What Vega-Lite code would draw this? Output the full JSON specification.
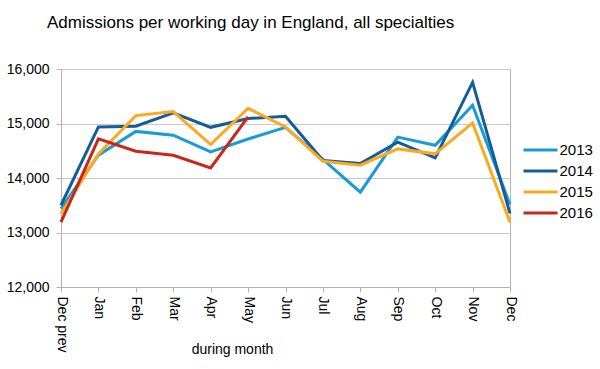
{
  "$schema": "https://vega.github.io/schema/vega-lite/v6.json",
  "width": 449,
  "height": 218,
  "autosize": "none",
  "padding": {"left": 61, "top": 69, "right": 90, "bottom": 82},
  "background": "white",
  "title": {
    "text": "Admissions per working day in England, all specialties",
    "anchor": "start",
    "frame": "group",
    "dx": -14,
    "offset": 17,
    "baseline": "alphabetic",
    "font": "Liberation Sans",
    "fontSize": 17,
    "fontWeight": "normal",
    "color": "#000000"
  },
  "config": {
    "view": {"stroke": "#b3b3b3", "strokeWidth": 1},
    "font": "Liberation Sans"
  },
  "data": {
    "values": [
      {"month": "Dec prev", "year": "2013", "value": 13440},
      {"month": "Jan", "year": "2013", "value": 14420},
      {"month": "Feb", "year": "2013", "value": 14855},
      {"month": "Mar", "year": "2013", "value": 14785},
      {"month": "Apr", "year": "2013", "value": 14480},
      {"month": "May", "year": "2013", "value": 14715},
      {"month": "Jun", "year": "2013", "value": 14930},
      {"month": "Jul", "year": "2013", "value": 14340},
      {"month": "Aug", "year": "2013", "value": 13740},
      {"month": "Sep", "year": "2013", "value": 14750},
      {"month": "Oct", "year": "2013", "value": 14600},
      {"month": "Nov", "year": "2013", "value": 15335},
      {"month": "Dec", "year": "2013", "value": 13515},
      {"month": "Dec prev", "year": "2014", "value": 13500},
      {"month": "Jan", "year": "2014", "value": 14937},
      {"month": "Feb", "year": "2014", "value": 14950},
      {"month": "Mar", "year": "2014", "value": 15195},
      {"month": "Apr", "year": "2014", "value": 14930},
      {"month": "May", "year": "2014", "value": 15090},
      {"month": "Jun", "year": "2014", "value": 15133},
      {"month": "Jul", "year": "2014", "value": 14320},
      {"month": "Aug", "year": "2014", "value": 14265},
      {"month": "Sep", "year": "2014", "value": 14657},
      {"month": "Oct", "year": "2014", "value": 14370},
      {"month": "Nov", "year": "2014", "value": 15756},
      {"month": "Dec", "year": "2014", "value": 13350},
      {"month": "Dec prev", "year": "2015", "value": 13340},
      {"month": "Jan", "year": "2015", "value": 14440},
      {"month": "Feb", "year": "2015", "value": 15145},
      {"month": "Mar", "year": "2015", "value": 15218},
      {"month": "Apr", "year": "2015", "value": 14614},
      {"month": "May", "year": "2015", "value": 15279},
      {"month": "Jun", "year": "2015", "value": 14937},
      {"month": "Jul", "year": "2015", "value": 14308},
      {"month": "Aug", "year": "2015", "value": 14235},
      {"month": "Sep", "year": "2015", "value": 14534},
      {"month": "Oct", "year": "2015", "value": 14443},
      {"month": "Nov", "year": "2015", "value": 15011},
      {"month": "Dec", "year": "2015", "value": 13190},
      {"month": "Dec prev", "year": "2016", "value": 13190},
      {"month": "Jan", "year": "2016", "value": 14718},
      {"month": "Feb", "year": "2016", "value": 14492},
      {"month": "Mar", "year": "2016", "value": 14418},
      {"month": "Apr", "year": "2016", "value": 14186},
      {"month": "May", "year": "2016", "value": 15121}
    ]
  },
  "mark": {"type": "line", "strokeWidth": 3, "strokeJoin": "miter"},
  "encoding": {
    "x": {
      "field": "month",
      "type": "ordinal",
      "sort": ["Dec prev", "Jan", "Feb", "Mar", "Apr", "May", "Jun", "Jul", "Aug", "Sep", "Oct", "Nov", "Dec"],
      "scale": {"type": "point", "padding": 0},
      "axis": {
        "title": "during month",
        "titleFont": "Liberation Sans",
        "titleFontSize": 14,
        "titleFontWeight": "normal",
        "titleColor": "#000000",
        "titleX": 171,
        "titleY": 62,
        "titleBaseline": "middle",
        "titleAnchor": null,
        "labelAngle": 90,
        "labelAlign": "left",
        "labelBaseline": "middle",
        "labelFontSize": 14,
        "labelColor": "#000000",
        "labelPadding": 4,
        "labelOverlap": false,
        "labelBound": false,
        "labelFlush": false,
        "tickSize": 5,
        "tickColor": "#b3b3b3",
        "domainColor": "#b3b3b3",
        "grid": false
      }
    },
    "y": {
      "field": "value",
      "type": "quantitative",
      "scale": {"domain": [12000, 16000], "nice": false, "zero": false},
      "axis": {
        "title": null,
        "values": [12000, 13000, 14000, 15000, 16000],
        "format": ",d",
        "labelFontSize": 14,
        "labelColor": "#000000",
        "labelPadding": 7,
        "tickSize": 5,
        "tickColor": "#b3b3b3",
        "domainColor": "#b3b3b3",
        "gridColor": "#c8c8c8",
        "gridWidth": 1
      }
    },
    "color": {
      "field": "year",
      "type": "nominal",
      "scale": {
        "domain": ["2013", "2014", "2015", "2016"],
        "range": ["#1a9bd7", "#135e96", "#fda91f", "#c9261c"]
      },
      "legend": {
        "title": null,
        "orient": "none",
        "legendX": 469.5,
        "legendY": 71,
        "symbolType": "M-2,0H2",
        "symbolSize": 289,
        "symbolStrokeWidth": 3,
        "labelFontSize": 15,
        "labelColor": "#000000",
        "labelOffset": 9,
        "rowPadding": 3
      }
    }
  }
}
